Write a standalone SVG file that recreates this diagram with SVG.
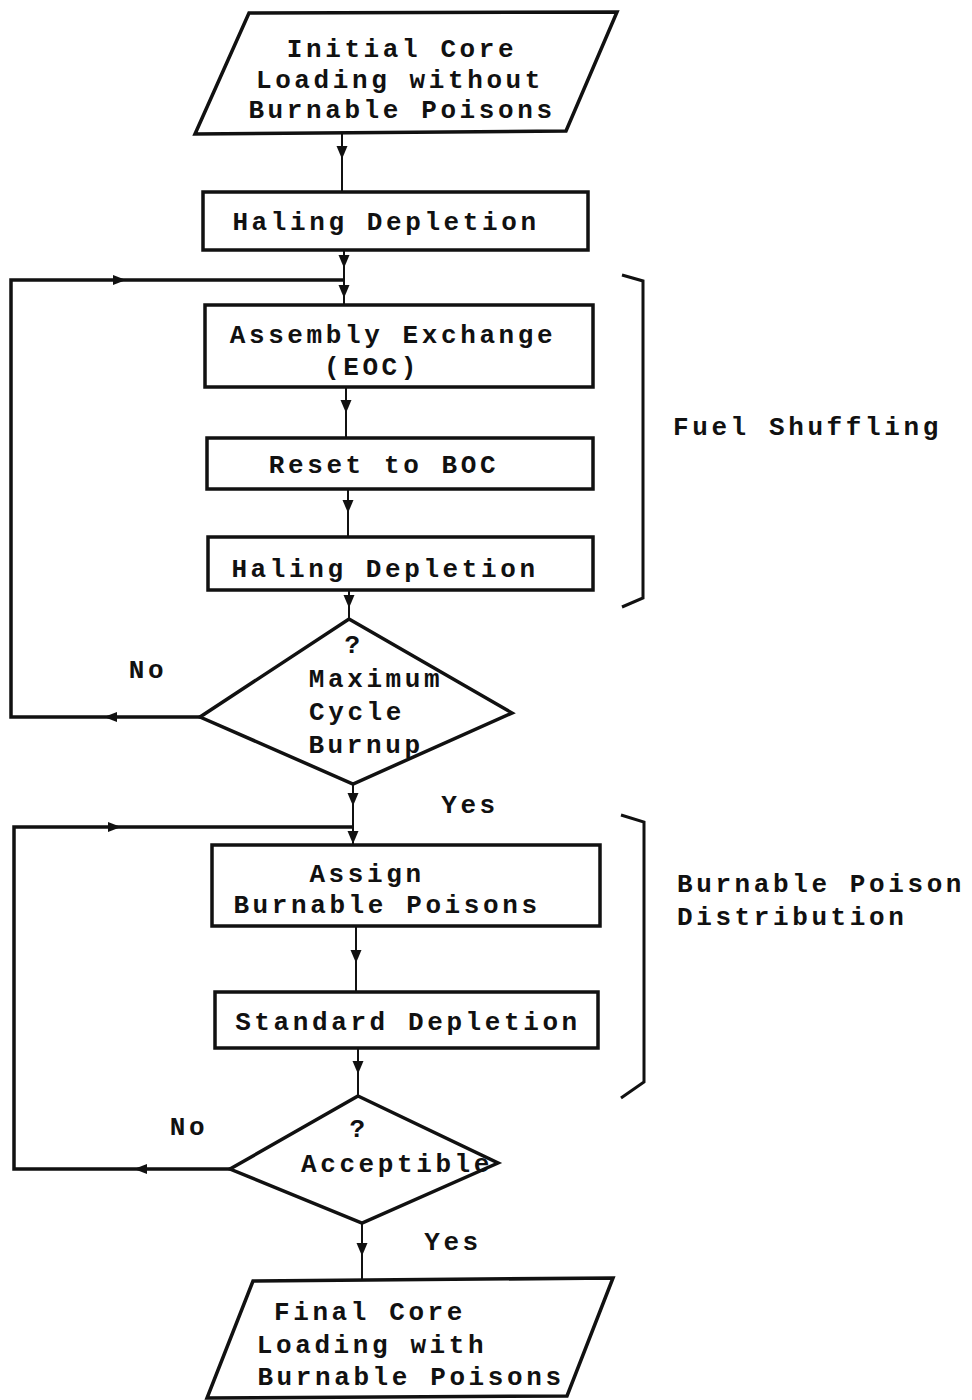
<svg xmlns="http://www.w3.org/2000/svg" xmlns:xlink="http://www.w3.org/1999/xlink" width="972" height="1400" viewBox="0 0 972 1400">
<style>
.shape{fill:none;stroke:#111;stroke-width:3.5;stroke-linejoin:miter}
.thin{fill:none;stroke:#111;stroke-width:2}
.loop{fill:none;stroke:#111;stroke-width:3.5}
.br{fill:none;stroke:#111;stroke-width:3}
text{font-family:"Liberation Mono","Courier New",monospace;font-weight:bold;font-size:26px;letter-spacing:3.6px;fill:#111}
.c{text-anchor:middle}
</style>
<defs>
<path id="ad" d="M-5.5,-7 L5.5,-7 L0,6 Z" fill="#111"/>
<path id="ar" d="M-7,-5 L6,0 L-7,5 Z" fill="#111"/>
<path id="al" d="M7,-5 L-6,0 L7,5 Z" fill="#111"/>
</defs>
<rect x="0" y="0" width="972" height="1400" fill="#fff"/>

<g id="connectors">
<path class="thin" d="M342,134 V192"/>
<path class="thin" d="M344,250 V305"/>
<path class="loop" d="M200,717 H11 V280 H344"/>
<path class="thin" d="M346,387 V438"/>
<path class="thin" d="M348,489 V537"/>
<path class="thin" d="M349,590 V619"/>
<path class="thin" d="M353,784 V845"/>
<path class="loop" d="M230,1169 H14 V827 H353"/>
<path class="thin" d="M356,926 V992"/>
<path class="thin" d="M358,1048 V1096"/>
<path class="thin" d="M362,1223 V1280"/>
<use xlink:href="#ad" x="342" y="153"/>
<use xlink:href="#ad" x="344" y="262"/>
<use xlink:href="#ad" x="344" y="292"/>
<use xlink:href="#ar" x="120" y="280"/>
<use xlink:href="#al" x="110" y="717"/>
<use xlink:href="#ad" x="346" y="407"/>
<use xlink:href="#ad" x="348" y="507"/>
<use xlink:href="#ad" x="349" y="602"/>
<use xlink:href="#ad" x="353" y="800"/>
<use xlink:href="#ad" x="353" y="838"/>
<use xlink:href="#ar" x="115" y="827"/>
<use xlink:href="#al" x="140" y="1169"/>
<use xlink:href="#ad" x="356" y="957"/>
<use xlink:href="#ad" x="358" y="1068"/>
<use xlink:href="#ad" x="362" y="1250"/>
<text x="148" y="678" class="c">No</text>
<text x="470" y="813" class="c">Yes</text>
<text x="189" y="1135" class="c">No</text>
<text x="453" y="1250" class="c">Yes</text>
</g>

<g id="start">
<path class="shape" d="M249,13 L617,12 L566,131 L195,134 Z"/>
<text x="402" y="57" class="c">Initial Core</text>
<text x="400" y="88" class="c">Loading without</text>
<text x="402" y="118" class="c">Burnable Poisons</text>
</g>

<g id="haling1">
<rect class="shape" x="203" y="192" width="385" height="58"/>
<text x="386" y="230" class="c">Haling Depletion</text>
</g>

<g id="exchange">
<rect class="shape" x="205" y="305" width="388" height="82"/>
<text x="393" y="343" class="c">Assembly Exchange</text>
<text x="372" y="375" class="c">(EOC)</text>
</g>

<g id="reset">
<rect class="shape" x="207" y="438" width="386" height="51"/>
<text x="384" y="473" class="c">Reset to BOC</text>
</g>

<g id="haling2">
<rect class="shape" x="208" y="537" width="385" height="53"/>
<text x="385" y="577" class="c">Haling Depletion</text>
</g>

<g id="maxburnup">
<path class="shape" d="M349,619 L512,713 L353,784 L200,717 Z"/>
<text x="354" y="653" class="c">?</text>
<text x="376" y="687" class="c">Maximum</text>
<text x="357" y="720" class="c">Cycle</text>
<text x="366" y="753" class="c">Burnup</text>
</g>

<g id="assign">
<rect class="shape" x="212" y="845" width="388" height="81"/>
<text x="367" y="882" class="c">Assign</text>
<text x="387" y="913" class="c">Burnable Poisons</text>
</g>

<g id="standard">
<rect class="shape" x="215" y="992" width="383" height="56"/>
<text x="408" y="1030" class="c">Standard Depletion</text>
</g>

<g id="acceptible">
<path class="shape" d="M358,1096 L498,1163 L362,1223 L230,1169 Z"/>
<text x="359" y="1137" class="c">?</text>
<text x="397" y="1172" class="c">Acceptible</text>
</g>

<g id="final">
<path class="shape" d="M253,1281 L613,1278 L567,1396 L207,1398 Z"/>
<text x="370" y="1320" class="c">Final Core</text>
<text x="372" y="1353" class="c">Loading with</text>
<text x="411" y="1385" class="c">Burnable Poisons</text>
</g>

<g id="fuel-shuffling">
<path class="br" d="M622,275 L643,281 V598 L622,607"/>
<text x="673" y="435">Fuel Shuffling</text>
</g>

<g id="bp-distribution">
<path class="br" d="M621,815 L644,822 V1082 L621,1098"/>
<text x="677" y="892">Burnable Poison</text>
<text x="677" y="925">Distribution</text>
</g>
</svg>
